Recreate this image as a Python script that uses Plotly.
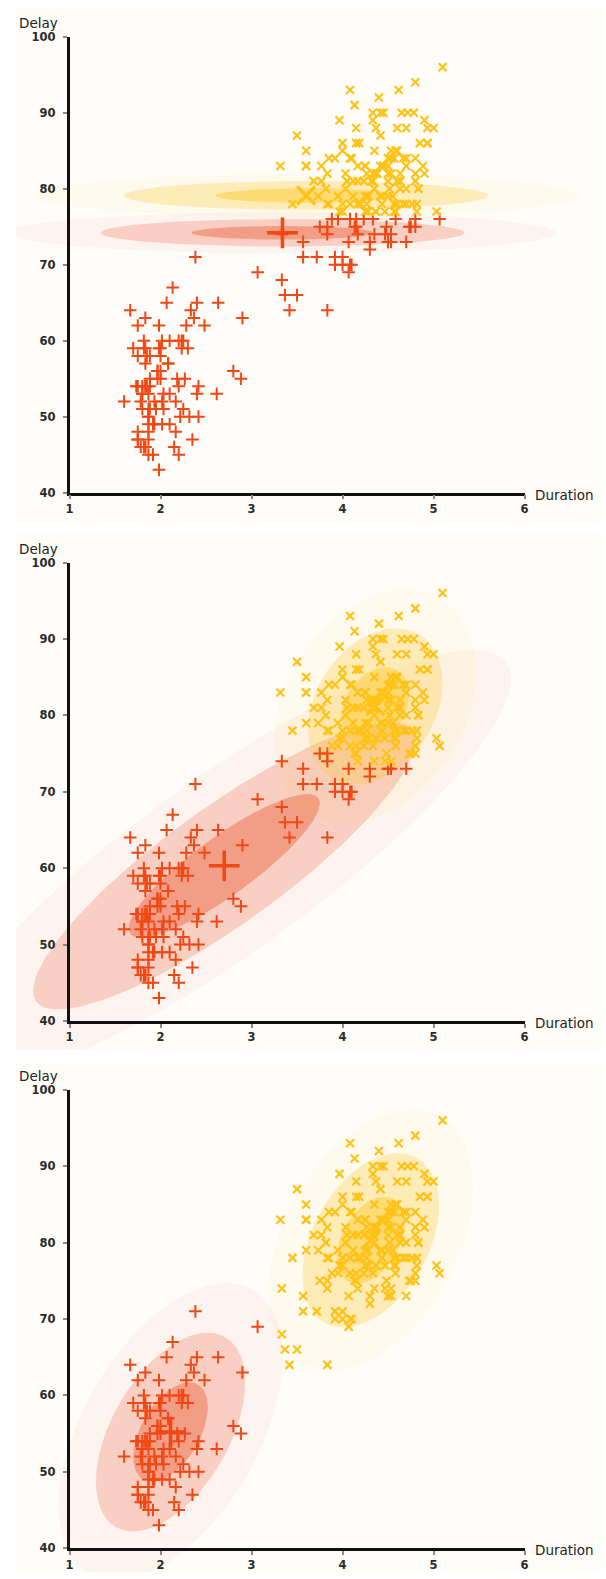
import numpy as np
import plotly.graph_objects as go

# ---------------- data (Old Faithful: eruption duration [min], delay [min]) ----------------
DURATION = [3.600,1.800,3.333,2.283,4.533,2.883,4.700,3.600,1.950,4.350,
1.833,3.917,4.200,1.750,4.700,2.167,1.750,4.800,1.600,4.250,
1.800,1.750,3.450,3.067,4.533,3.600,1.967,4.083,3.850,4.433,
4.300,4.467,3.367,4.033,3.833,2.017,1.867,4.833,1.833,4.783,
4.350,1.883,4.567,1.750,4.533,3.317,3.833,2.100,4.633,2.000,
4.800,4.716,1.833,4.833,1.733,4.883,3.717,1.667,4.567,4.317,
2.233,4.500,1.750,4.800,1.817,4.400,4.167,4.700,2.067,4.700,
4.033,1.967,4.500,4.000,1.983,5.067,2.017,4.567,3.883,3.600,
4.133,4.333,4.100,2.633,4.067,4.933,3.950,4.517,2.167,4.000,
2.200,4.333,1.867,4.817,1.833,4.300,4.667,3.750,1.867,4.900,
2.483,4.367,2.100,4.500,4.050,1.867,4.700,1.783,4.850,3.683,
4.733,2.300,4.900,4.417,1.700,4.633,2.317,4.600,1.817,4.417,
2.617,4.067,4.250,1.967,4.600,3.767,1.917,4.500,2.267,4.650,
1.867,4.167,2.800,4.333,1.833,4.383,1.883,4.933,2.033,3.733,
4.233,2.233,4.533,4.817,4.333,1.983,4.633,2.017,5.100,1.800,
5.033,4.000,2.400,4.600,3.567,4.000,4.500,4.083,1.800,3.967,
2.200,4.150,2.000,3.833,3.500,4.583,2.367,5.000,1.933,4.617,
1.917,2.083,4.583,3.333,4.167,4.333,4.500,2.417,4.000,4.167,
1.883,4.583,4.250,3.767,2.033,4.433,4.083,1.833,4.417,2.183,
4.800,1.833,4.800,4.100,3.966,4.233,3.500,4.366,2.250,4.667,
2.100,4.350,4.133,1.867,4.600,1.783,4.367,3.850,1.933,4.500,
2.383,4.700,1.867,3.833,3.417,4.233,2.400,4.800,2.000,4.150,
1.867,4.267,1.750,4.483,4.000,4.117,4.083,4.267,3.917,4.550,
4.083,2.417,4.183,2.217,4.450,1.883,1.850,4.283,3.950,2.333,
4.150,2.350,4.933,2.900,4.583,3.833,2.083,4.367,2.133,4.350,
2.200,4.450,3.567,4.500,4.150,3.817,3.917,4.450,2.000,4.283,
4.767,4.533,1.850,4.250,1.983,2.250,4.750,4.117,2.150,4.417,
1.817,4.467]

DELAY = [79,54,74,62,85,55,88,85,51,85,
54,84,78,47,83,52,62,84,52,79,
51,47,78,69,74,83,55,76,78,79,
73,77,66,80,74,52,48,80,59,90,
80,58,84,58,73,83,64,53,82,59,
75,90,54,80,54,83,71,64,77,81,
59,84,48,82,60,92,78,78,65,73,
82,56,79,71,62,76,60,78,76,83,
75,82,70,65,73,88,76,80,48,86,
60,90,50,78,63,72,84,75,51,82,
62,88,49,83,81,47,84,52,86,81,
75,59,89,79,59,81,50,85,59,87,
53,69,77,56,88,81,45,82,55,90,
45,83,56,89,46,82,51,86,53,79,
81,60,82,77,76,59,80,49,96,53,
77,77,65,81,71,70,81,93,53,89,
45,86,58,78,66,76,63,88,52,93,
49,57,77,68,81,81,73,50,85,74,
55,77,83,83,51,78,84,46,83,55,
81,57,76,84,77,81,87,77,51,78,
60,82,91,53,78,46,77,84,49,83,
71,80,49,75,64,76,53,94,55,76,
50,82,54,75,78,79,78,78,70,79,
70,54,86,50,90,54,54,77,79,64,
75,47,86,63,85,82,57,82,67,74,
54,83,73,73,88,80,71,83,56,79,
78,84,58,83,43,60,75,81,46,90,
46,74]

# cluster boundaries
P1_RED_MAX_DELAY = 76                  # panel 1: red if delay <= 76
P2_RED_MAX_DELAY = 73                  # panel 2: red if delay <= 73 ...
P2_RED_MAX_DELAY_SHORT = 75            # ... or delay <= 75 with duration < 3.9
P2_SHORT_DURATION = 3.9
P3_RED_MAX_DURATION = 3.2              # panel 3: red if duration < 3.2

# Gaussian components per panel: mean, sd(x), sd(y), correlation
RED_MEAN = [(3.34, 74.2), (2.70, 60.3), (2.11, 55.2)]
RED_SD = [(1.0, 0.9), (1.05, 9.4), (0.41, 6.5)]
RED_RHO = [0.0, 0.87, 0.5]
YEL_MEAN = [(3.60, 79.1), (4.36, 81.2), (4.31, 80.3)]
YEL_SD = [(1.0, 0.95), (0.37, 5.1), (0.375, 5.7)]
YEL_RHO = [0.0, 0.3, 0.4]
SIGMA_LEVELS = [3, 2, 1]

X_TICKS = [1, 2, 3, 4, 5, 6]
Y_TICKS = [40, 50, 60, 70, 80, 90, 100]

# ---------------- styling / geometry ----------------
W, H = 606, 1579
X1_PX, X6_PX = 66.4, 527.5
PANEL_Y = [(30.0, 490.0), (560.5, 1023.0), (1092.5, 1555.0)]   # pixel of y=100, y=40
PANEL_BOX = [(0, 522), (531, 1052), (1066, 1579)]              # drawing area per panel
BOX_LEFT = 12
BG = "#fefdfa"
RED = "#f04814"
YEL = "#ffc318"
RED_FILL = (235, 95, 60)
YEL_FILL = (255, 200, 40)
ALPHAS = {3: 0.06, 2: 0.25, 1: 0.45}
YALPHAS = {3: 0.06, 2: 0.27, 1: 0.47}

def px_to_x(px):
    return 1 + (px - X1_PX) / (X6_PX - X1_PX) * 5

def px_to_y(px, p):
    y100, y40 = PANEL_Y[p]
    return 100 - (px - y100) / (y40 - y100) * 60

def ellipse(mean, sd, rho, k):
    t = np.linspace(0, 2 * np.pi, 160)
    sx, sy = sd
    u, v = np.cos(t), np.sin(t)
    x = mean[0] + k * sx * u
    y = mean[1] + k * (rho * sy * u + sy * np.sqrt(1 - rho ** 2) * v)
    return x, y

dur = np.array(DURATION)
dly = np.array(DELAY)
red_masks = [
    dly <= P1_RED_MAX_DELAY,
    (dly <= P2_RED_MAX_DELAY) | ((dly <= P2_RED_MAX_DELAY_SHORT) & (dur < P2_SHORT_DURATION)),
    dur < P3_RED_MAX_DURATION,
]

fig = go.Figure()
layout = dict(width=W, height=H, margin=dict(l=0, r=0, t=0, b=0),
              paper_bgcolor="white", plot_bgcolor="rgba(0,0,0,0)",
              showlegend=False, shapes=[], annotations=[])

tickfont = dict(family="DejaVu Sans", size=11.5, color="#2a2a2a", weight="bold")
labfont = dict(family="DejaVu Sans", size=13.5, color="#222222")

for p in range(3):
    dx = "x" if p == 0 else f"x{p+1}"
    dy = "y" if p == 0 else f"y{p+1}"
    ax_i = p + 4
    top, bot = PANEL_BOX[p]
    # data axes (wide, invisible) -> subplot p
    layout["xaxis" if p == 0 else f"xaxis{p+1}"] = dict(
        domain=[BOX_LEFT / W, 1], range=[px_to_x(BOX_LEFT), px_to_x(W)],
        visible=False, anchor=dy, fixedrange=True)
    layout["yaxis" if p == 0 else f"yaxis{p+1}"] = dict(
        domain=[1 - bot / H, 1 - top / H], range=[px_to_y(bot, p), px_to_y(top, p)],
        visible=False, anchor=dx, fixedrange=True)
    # visible axes
    y100, y40 = PANEL_Y[p]
    layout[f"xaxis{ax_i}"] = dict(
        domain=[X1_PX / W, X6_PX / W], range=[1, 6], tickvals=X_TICKS,
        anchor=f"y{ax_i}", showline=True, linecolor="#111111", linewidth=2.5,
        ticks="outside", ticklen=4, tickwidth=1.5, tickcolor="#8a8a8a",
        showgrid=False, zeroline=False, tickfont=tickfont, fixedrange=True)
    layout[f"yaxis{ax_i}"] = dict(
        domain=[1 - y40 / H, 1 - y100 / H], range=[40, 100], tickvals=Y_TICKS,
        anchor=f"x{ax_i}", showline=True, linecolor="#111111", linewidth=2.5,
        ticks="outside", ticklen=4, tickwidth=1.5, tickcolor="#8a8a8a",
        showgrid=False, zeroline=False, tickfont=tickfont, fixedrange=True,
        ticklabelstandoff=5)
    # panel background
    layout["shapes"].append(dict(type="rect", xref="paper", yref="paper",
                                 x0=BOX_LEFT / W, x1=1, y0=1 - bot / H, y1=1 - top / H,
                                 fillcolor=BG, line=dict(width=0), layer="below"))
    layout["annotations"].append(dict(text="Delay", xref="paper", yref="paper",
                                      x=13 / W, y=1 - (y100 - 14) / H, xanchor="left",
                                      yanchor="middle", showarrow=False, font=labfont))
    layout["annotations"].append(dict(text="Duration", xref="paper", yref="paper",
                                      x=536 / W, y=1 - (y40 + 2) / H, xanchor="left",
                                      yanchor="middle", showarrow=False, font=labfont))

    # ellipses
    for mean, sd, rho, rgb, alph in [
        (RED_MEAN[p], RED_SD[p], RED_RHO[p], RED_FILL, ALPHAS),
        (YEL_MEAN[p], YEL_SD[p], YEL_RHO[p], YEL_FILL, YALPHAS)]:
        for k in SIGMA_LEVELS:
            ex, ey = ellipse(mean, sd, rho, k)
            fig.add_trace(go.Scatter(
                x=ex, y=ey, mode="lines", fill="toself", line=dict(width=0),
                fillcolor=f"rgba({rgb[0]},{rgb[1]},{rgb[2]},{alph[k]})",
                hoverinfo="skip", xaxis=dx, yaxis=dy))

    m = red_masks[p]
    fig.add_trace(go.Scatter(
        x=dur[m], y=dly[m], mode="markers", xaxis=dx, yaxis=dy,
        marker=dict(symbol="cross-thin", size=9, color=RED,
                    line=dict(width=2, color=RED))))
    fig.add_trace(go.Scatter(
        x=dur[~m], y=dly[~m], mode="markers", xaxis=dx, yaxis=dy,
        marker=dict(symbol="x-thin", size=8, color=YEL,
                    line=dict(width=2.2, color=YEL))))
    # component means
    fig.add_trace(go.Scatter(
        x=[RED_MEAN[p][0]], y=[RED_MEAN[p][1]], mode="markers", xaxis=dx, yaxis=dy,
        marker=dict(symbol="cross-thin", size=22, color=RED,
                    line=dict(width=3.5, color=RED))))
    fig.add_trace(go.Scatter(
        x=[YEL_MEAN[p][0]], y=[YEL_MEAN[p][1]], mode="markers", xaxis=dx, yaxis=dy,
        marker=dict(symbol="x-thin", size=18, color=YEL,
                    line=dict(width=3.5, color=YEL))))

# dummy invisible traces so visible axes form subplots
for i in range(4, 7):
    fig.add_trace(go.Scatter(x=[None], y=[None], xaxis=f"x{i}", yaxis=f"y{i}",
                             mode="markers", hoverinfo="skip"))

fig.update_layout(**layout)
fig.write_html("out.html")
